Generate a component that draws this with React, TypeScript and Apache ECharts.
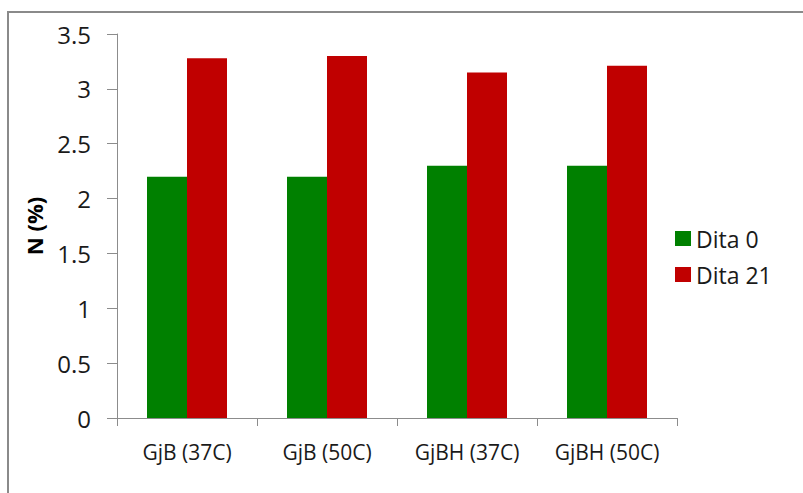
import React, { useEffect, useRef } from "react";
import * as echarts from "echarts";

const categories = ["GjB (37C)", "GjB (50C)", "GjBH (37C)", "GjBH (50C)"];
const dita0 = [2.2, 2.2, 2.3, 2.3];
const dita21 = [3.28, 3.3, 3.15, 3.21];
const seriesNames = ["Dita 0", "Dita 21"];
const yAxisName = "N (%)";

const FONT = "'Open Sans', 'Liberation Sans', sans-serif";

export default function App() {
  const ref = useRef<HTMLDivElement>(null);
  useEffect(() => {
    if (!ref.current) return;
    const chart = echarts.init(ref.current, null, { renderer: "svg" });
    chart.setOption({
      animation: false,
      backgroundColor: "#ffffff",
      textStyle: { fontFamily: FONT },
      graphic: [
        {
          type: "rect",
          shape: { x: 8, y: 12, width: 900, height: 600 },
          style: { fill: "none", stroke: "#8a8a8a", lineWidth: 2 },
          silent: true,
        },
      ],
      grid: { left: 117, right: 126, top: 34, bottom: 75 },
      legend: {
        orient: "vertical",
        left: 670,
        top: 222,
        itemWidth: 16,
        itemHeight: 15,
        itemGap: 13,
        icon: "rect",
        textStyle: { fontSize: 23, color: "#1a1a1a", fontFamily: FONT, padding: [0, 0, 0, 0] },
        data: seriesNames,
      },
      xAxis: {
        type: "category",
        data: categories,
        axisLine: { lineStyle: { color: "#8c8c8c", width: 1 } },
        axisTick: { show: true, length: 8, lineStyle: { color: "#8c8c8c" } },
        axisLabel: { fontSize: 21, color: "#1a1a1a", margin: 23, interval: 0, fontFamily: FONT },
      },
      yAxis: {
        type: "value",
        min: 0,
        max: 3.5,
        interval: 0.5,
        name: yAxisName,
        nameLocation: "middle",
        nameGap: 72,
        nameTextStyle: { fontSize: 22, fontWeight: "bold", color: "#000", fontFamily: FONT },
        axisLine: { show: true, lineStyle: { color: "#8c8c8c", width: 1 } },
        axisTick: { show: true, length: 10, lineStyle: { color: "#8c8c8c" } },
        splitLine: { show: false },
        axisLabel: { fontSize: 24, color: "#1a1a1a", margin: 26, fontFamily: FONT },
      },
      series: [
        {
          name: seriesNames[0],
          type: "bar",
          data: dita0,
          barWidth: 40,
          barGap: "0%",
          itemStyle: { color: "#008000" },
        },
        {
          name: seriesNames[1],
          type: "bar",
          data: dita21,
          barWidth: 40,
          barGap: "0%",
          itemStyle: { color: "#c00000" },
        },
      ],
    });
    return () => chart.dispose();
  }, []);
  return (
    <div
      ref={ref}
      style={{ position: "absolute", left: 0, top: 0, width: 803, height: 493 }}
    />
  );
}
